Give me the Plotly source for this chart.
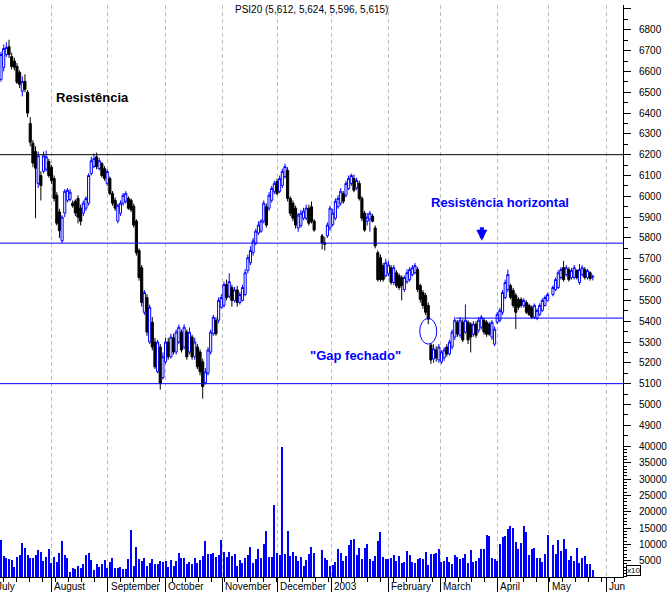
import plotly.graph_objects as go

# PSI20 daily session data (one slot per trading day, None = market closed)
opens = [6562, 6619, 6681, 6719, 6671, 6650, 6624, 6595, 6505, 6552, 6500, 6350, 6255, 6215, 6062, 6100, 6120, 6130, 6167, 6140,
         6086, 6005, 5925, 5786, 5919, 5981, 5985, 5967, 5976, 5990, 5943, 5919, 5943, 5967, 6109, 6143, 6190, 6133, 6157, 6133,
         6062, 6086, 6014, 5981, 5881, 5919, 5967, 5976, 5990, 5981, 5952, 5881, 5740, 5657, 5443, 5514, 5300, 5395, 5300, 5157,
         5276, 5129, 5205, 5300, 5229, 5320, 5252, 5300, 5348, 5276, 5348, 5252, 5324, 5229, 5276, 5252, 5205, 5105, 5150, 5252,
         5340, 5405, 5405, 5467, 5476, 5576, 5520, 5562, 5500, 5550, 5490, 5500, 5528, 5643, 5681, 5729, 5776, 5824, 5833, 5881,
         5950, 5943, 5981, 6024, 6071, 6024, 6052, 6095, 6124, 5990, 5967, 5943, 5848, 5860, 5895, 5895, 5943, 5950, 5881, None,
         None, 5810, 5776, 5810, 5848, 5865, 5895, 5950, 5967, 6014, 6005, 6038, 6062, 6086, 6040, 6062, 5990, 5919, 5880, 5890,
         5905, 5848, 5729, 5705, 5667, 5619, 5630, 5657, 5586, 5633, 5619, 5610, 5552, 5590, 5600, 5624, 5633, 5648, 5571, 5538,
         5524, 5476, 5286, 5219, 5262, 5214, 5205, 5224, 5276, 5243, 5276, 5324, 5395, 5333, 5395, 5348, 5395, 5386, 5338, 5386,
         5357, 5371, 5405, 5395, 5386, 5324, 5290, 5395, 5405, 5443, 5514, 5552, 5571, 5548, 5524, 5505, 5505, 5476, 5490, 5476,
         5467, 5419, 5414, 5433, 5452, 5476, 5500, None, 5528, 5552, 5562, 5610, 5657, 5624, 5648, 5610, 5610, 5643, 5586, 5624,
         5648, 5610, 5633, 5612]
highs = [6695, 6730, 6740, 6752, 6690, 6665, 6640, 6605, 6576, 6586, 6510, 6380, 6270, 6240, 6215, 6120, 6215, 6220, 6180, 6150,
         6100, 6020, 5940, 5910, 6035, 6040, 6035, 5980, 5985, 6005, 5960, 5980, 6000, 6110, 6190, 6205, 6210, 6185, 6165, 6145,
         6130, 6095, 6025, 5995, 5965, 5980, 6015, 6025, 6000, 5990, 5965, 5890, 5750, 5670, 5550, 5530, 5480, 5420, 5320, 5310,
         5290, 5250, 5320, 5320, 5340, 5340, 5360, 5385, 5360, 5385, 5360, 5370, 5335, 5320, 5290, 5265, 5220, 5175, 5275, 5360,
         5430, 5420, 5515, 5530, 5590, 5600, 5630, 5575, 5565, 5570, 5540, 5575, 5650, 5720, 5760, 5800, 5845, 5880, 5890, 5980,
         5965, 6020, 6050, 6075, 6085, 6100, 6133, 6157, 6140, 6000, 5980, 5955, 5920, 5935, 5945, 5960, 5960, 5975, 5890, None,
         None, 5820, 5805, 5875, 5955, 5940, 5990, 6005, 6040, 6025, 6075, 6100, 6109, 6105, 6090, 6075, 6000, 5930, 5920, 5930,
         5915, 5860, 5740, 5720, 5680, 5700, 5690, 5670, 5670, 5645, 5630, 5620, 5620, 5650, 5660, 5670, 5680, 5660, 5580, 5550,
         5535, 5490, 5295, 5290, 5280, 5290, 5260, 5275, 5290, 5310, 5360, 5420, 5405, 5420, 5410, 5481, 5405, 5395, 5400, 5400,
         5420, 5430, 5415, 5405, 5395, 5405, 5375, 5445, 5465, 5550, 5600, 5648, 5580, 5560, 5535, 5515, 5515, 5510, 5500, 5485,
         5475, 5485, 5462, 5486, 5510, 5524, 5538, None, 5572, 5610, 5645, 5660, 5690, 5670, 5660, 5655, 5670, 5650, 5675, 5670,
         5660, 5652, 5640, 5624]
lows = [6550, 6600, 6670, 6665, 6610, 6605, 6540, 6520, 6480, 6500, 6380, 6240, 6140, 5895, 6040, 5980, 6110, 6120, 6090, 6060,
        5975, 5860, 5800, 5776, 5900, 5970, 5975, 5945, 5905, 5870, 5860, 5905, 5930, 5955, 6100, 6135, 6130, 6125, 6090, 6075,
        6050, 6005, 5955, 5930, 5870, 5905, 5955, 5965, 5935, 5925, 5850, 5715, 5595, 5470, 5430, 5330, 5290, 5260, 5170, 5150,
        5071, 5120, 5195, 5215, 5220, 5240, 5240, 5290, 5250, 5265, 5215, 5240, 5215, 5215, 5170, 5140, 5028, 5095, 5140, 5240,
        5330, 5330, 5390, 5460, 5465, 5500, 5510, 5470, 5490, 5470, 5480, 5495, 5520, 5630, 5670, 5715, 5765, 5815, 5825, 5870,
        5850, 5930, 5970, 6010, 6005, 6015, 6040, 6085, 5975, 5905, 5880, 5845, 5830, 5850, 5885, 5885, 5860, 5870, 5830, None,
        None, 5745, 5740, 5800, 5835, 5855, 5885, 5940, 5955, 5965, 5995, 6030, 6050, 6020, 6030, 5980, 5880, 5830, 5860, 5830,
        5875, 5750, 5590, 5590, 5590, 5610, 5615, 5575, 5575, 5560, 5550, 5500, 5540, 5580, 5590, 5615, 5625, 5540, 5490, 5460,
        5430, 5386, 5195, 5200, 5205, 5200, 5195, 5210, 5230, 5235, 5265, 5310, 5325, 5320, 5300, 5340, 5290, 5250, 5325, 5320,
        5345, 5360, 5335, 5325, 5330, 5310, 5280, 5385, 5395, 5430, 5505, 5540, 5505, 5465, 5362, 5455, 5465, 5465, 5435, 5425,
        5410, 5410, 5405, 5425, 5445, 5470, 5495, None, 5520, 5545, 5555, 5600, 5590, 5615, 5590, 5600, 5600, 5600, 5575, 5615,
        5600, 5600, 5595, 5596]
closes = [6681, 6710, 6715, 6681, 6624, 6620, 6548, 6538, 6552, 6514, 6400, 6260, 6160, 6135, 6195, 6052, 6195, 6190, 6100, 6076,
          5990, 5871, 5835, 5900, 6024, 6029, 6020, 5955, 5920, 5900, 5880, 5967, 5990, 6100, 6171, 6181, 6143, 6171, 6100, 6086,
          6119, 6014, 5967, 5943, 5957, 5967, 6005, 6014, 5943, 5935, 5862, 5729, 5610, 5490, 5538, 5348, 5467, 5276, 5181, 5300,
          5100, 5229, 5300, 5229, 5324, 5252, 5348, 5371, 5262, 5371, 5229, 5348, 5229, 5300, 5181, 5157, 5086, 5157, 5262, 5348,
          5419, 5340, 5500, 5514, 5576, 5514, 5590, 5500, 5550, 5490, 5528, 5562, 5633, 5705, 5740, 5786, 5833, 5862, 5881, 5967,
          5862, 6005, 6038, 6062, 6014, 6086, 6119, 6143, 5990, 5919, 5895, 5862, 5910, 5919, 5929, 5943, 5871, 5880, 5838, None,
          None, 5776, 5770, 5862, 5943, 5919, 5976, 5990, 6024, 5976, 6062, 6086, 6100, 6029, 6076, 5990, 5895, 5838, 5900, 5919,
          5880, 5762, 5600, 5600, 5600, 5681, 5670, 5586, 5657, 5571, 5562, 5571, 5610, 5633, 5648, 5657, 5667, 5552, 5505, 5476,
          5443, 5410, 5214, 5267, 5224, 5276, 5252, 5262, 5243, 5300, 5348, 5405, 5338, 5405, 5310, 5405, 5310, 5324, 5386, 5333,
          5405, 5419, 5348, 5338, 5338, 5395, 5362, 5433, 5452, 5538, 5586, 5624, 5514, 5476, 5443, 5467, 5476, 5500, 5443, 5433,
          5419, 5476, 5452, 5476, 5500, 5514, 5528, None, 5562, 5600, 5633, 5648, 5600, 5657, 5600, 5643, 5657, 5610, 5648, 5657,
          5610, 5643, 5605, 5615]
volumes = [11400, 6400, 5700, 5400, 5200, 3000, 6100, 6700, 10500, 8800, 6700, 5800, 5800, 6700, 8200, 7600, 4900, 6100, 8500, 4300,
           6100, 4600, 7300, 10900, 6700, 5700, 1500, 2600, 2400, 3300, 2700, 4000, 6700, 7300, 5200, 2100, 4000, 3000, 4000, 5200,
           2700, 4600, 5800, 2700, 2700, 3000, 2400, 2400, 5500, 14300, 3300, 9100, 5500, 4900, 5800, 3300, 4300, 5500, 4000, 4000,
           4900, 4600, 4900, 3000, 5200, 3300, 4900, 7300, 5800, 5800, 4000, 4600, 4000, 5800, 4300, 5200, 6400, 10900, 7000, 7000,
           7300, 6100, 6700, 11200, 7600, 6100, 7600, 6400, 7000, 3300, 5200, 4300, 5800, 6700, 9100, 4300, 5500, 8500, 5800, 10000,
           14000, 6100, 6100, 21900, 7300, 6700, 39800, 7000, 14000, 6400, 7600, 6400, 4900, 6100, 3300, 5200, 7000, 9100, 7300, None,
           None, 8200, 5800, 5200, 3300, 3600, 4600, 8500, 7300, 4900, 6400, 9700, 11200, 11500, 6700, 8800, 5500, 8800, 10000, 5500,
           4900, 6400, 10900, 13700, 6100, 5500, 5500, 5800, 6700, 4900, 6400, 4300, 4600, 7900, 6700, 4600, 4300, 5500, 5800, 5500,
           7600, 3600, 7000, 7000, 7300, 8500, 4600, 4900, 6100, 4600, 4000, 6700, 6100, 5500, 5800, 7000, 4300, 8200, 4600, 4900,
           5800, 8500, 8500, 12800, 12500, 5800, 5500, 4900, 10000, 12200, 12500, 14600, 15500, 14900, 10600, 8500, 10300, 15500, 13700, 6700,
           8500, 8800, 5800, 5800, 4600, 7000, 12800, None, 9700, 7000, 11200, 7900, 11500, 8500, 5200, 6400, 4900, 8800, 4300, 5800,
           6400, 4000, 4000, 2100]
days = list(range(len(opens)))

# Month labels and the session where each month begins
month_names = ["July", "August", "September", "October", "November", "December",
               "2003", "February", "March", "April", "May", "Jun"]
month_starts = [-2.7, 19.0, 40.2, 61.9, 83.3, 104.0, 124.4, 145.9, 165.6, 187.1, 206.5, 228.1]
x_range = [-0.4, 234.4]

price_ticks = list(range(4900, 7000, 100))
price_tick_text = [str(v) if v < 6900 else "" for v in price_ticks]
volume_ticks = list(range(5000, 45000, 5000))
volume_tick_text = [str(v) for v in volume_ticks]

# Support / resistance levels
resistance_high = 6200
resistance_horizontal = 5775
support_low = 5100
gap_level = 5415
gap_level_start = 171.5

last = (5612, 5624, 5596, 5615)

BLUE = "#0000ff"
FONT = "Liberation Sans, Arial, sans-serif"

fig = go.Figure()
fig.add_trace(go.Candlestick(
    x=days, open=opens, high=highs, low=lows, close=closes,
    increasing=dict(line=dict(color=BLUE, width=1), fillcolor="white"),
    decreasing=dict(line=dict(color="black", width=1), fillcolor="black"),
    whiskerwidth=0, showlegend=False, hoverinfo="skip", yaxis="y"))
fig.add_trace(go.Bar(
    x=days, y=volumes, width=0.4, marker=dict(color=BLUE, line=dict(width=0)),
    showlegend=False, hoverinfo="skip", yaxis="y2"))

shapes = []
for level, color in [(resistance_high, "black"), (resistance_horizontal, BLUE), (support_low, BLUE)]:
    shapes.append(dict(type="line", xref="paper", yref="y", x0=0, x1=1, y0=level, y1=level,
                       line=dict(color=color, width=1)))
shapes.append(dict(type="line", xref="x", yref="y", x0=gap_level_start, x1=x_range[1], y0=gap_level, y1=gap_level,
                   line=dict(color=BLUE, width=1)))
shapes.append(dict(type="circle", xref="x", yref="y", x0=157.8, x1=164.2, y0=5290, y1=5414,
                   line=dict(color=BLUE, width=1)))

annotations = [
    dict(xref="paper", yref="paper", x=0.5, y=1, yanchor="top", yshift=3, showarrow=False,
         text="PSI20 (%s, %s, %s, %s)" % tuple(f"{v:,}" for v in last),
         font=dict(family=FONT, size=10, color="black")),
    dict(xref="x", yref="y", x=20.1, y=6476, xanchor="left", showarrow=False,
         text="<b>Resistência</b>", font=dict(family=FONT, size=13, color="black")),
    dict(xref="x", yref="y", x=161.4, y=5971, xanchor="left", showarrow=False,
         text="<b>Resistência horizontal</b>", font=dict(family=FONT, size=13, color=BLUE)),
    dict(xref="x", yref="y", x=115.7, y=5233, xanchor="left", showarrow=False,
         text="<b>\"Gap fechado\"</b>", font=dict(family=FONT, size=13, color=BLUE)),
    dict(xref="x", yref="y", x=181.2, y=5786, ax=0, ay=-15, showarrow=True, text="",
         arrowhead=2, arrowsize=0.55, arrowwidth=4, arrowcolor=BLUE),
    dict(xref="paper", yref="paper", x=1, y=0, xanchor="left", yanchor="bottom", xshift=3, yshift=1,
         showarrow=False, text="x10", bordercolor="black", borderwidth=1, borderpad=0,
         font=dict(family=FONT, size=8, color="black")),
]
for name, pos in zip(month_names, month_starts):
    paper_x = (pos - x_range[0]) / (x_range[1] - x_range[0])
    annotations.append(dict(xref="paper", yref="paper", x=paper_x, y=0, xanchor="left", yanchor="top",
                            xshift=1, yshift=-2, showarrow=False, text=name,
                            font=dict(family=FONT, size=10, color="black")))

fig.update_layout(
    width=667, height=592, margin=dict(l=0, r=40, t=0, b=15),
    paper_bgcolor="white", plot_bgcolor="white",
    boxgap=0.2, boxgroupgap=0, bargap=0,
    font=dict(family=FONT, size=10, color="black"),
    shapes=shapes, annotations=annotations,
    xaxis=dict(range=x_range, anchor="y2", showline=True, linecolor="black", linewidth=1,
               tickmode="array", tickvals=month_starts[1:], showticklabels=False,
               ticks="outside", ticklen=15, tickcolor="black",
               showgrid=True, gridcolor="#c0c0c0", griddash="4px,3px", gridwidth=1, zeroline=False,
               minor=dict(ticks="outside", ticklen=4, tickmode="linear", tick0=40.2, dtick=4.9,
                          tickcolor="black", showgrid=False),
               rangeslider=dict(visible=False), fixedrange=True),
    yaxis=dict(domain=[0.2288, 1], range=[4800, 6919], side="right", anchor="x",
               showline=True, linecolor="black", linewidth=1,
               tickmode="array", tickvals=price_ticks, ticktext=price_tick_text,
               ticks="outside", ticklen=7, tickcolor="black", ticklabelstandoff=6,
               minor=dict(ticks="outside", ticklen=4, tickmode="linear", tick0=0, dtick=50, tickcolor="black"),
               showgrid=False, zeroline=False, fixedrange=True),
    yaxis2=dict(domain=[0, 0.2288], range=[0, 40100], side="right", anchor="x",
                showline=True, linecolor="black", linewidth=1,
                tickmode="array", tickvals=volume_ticks, ticktext=volume_tick_text,
                ticks="outside", ticklen=7, tickcolor="black", ticklabelstandoff=6,
                minor=dict(ticks="outside", ticklen=3, tickmode="linear", tick0=0, dtick=1000, tickcolor="black"),
                showgrid=False, zeroline=False, fixedrange=True),
)

fig.write_html("out.html")
